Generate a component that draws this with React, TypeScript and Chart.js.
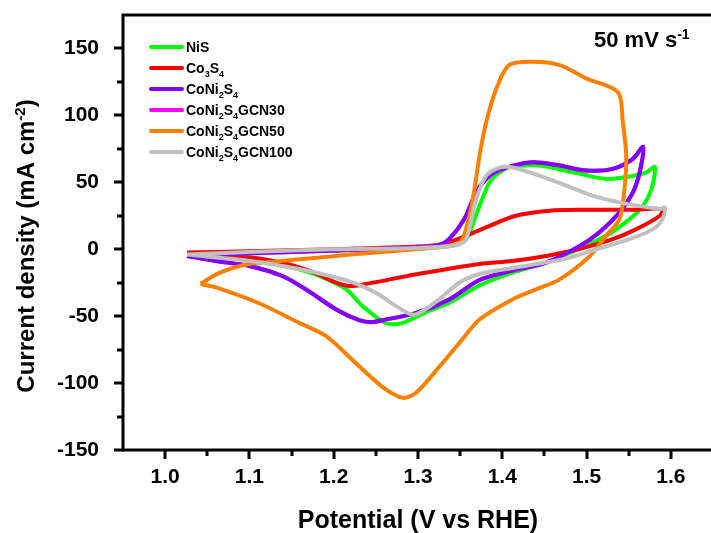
import React, { useEffect, useRef } from 'react';
import { Chart, registerables } from 'chart.js';

Chart.register(...registerables);

const FONT = '"Liberation Sans", Arial, Helvetica, sans-serif';

// ---- axis ticks ----
const xTickValues = [1.0, 1.1, 1.2, 1.3, 1.4, 1.5, 1.6];
const xMinorValues = [1.05, 1.15, 1.25, 1.35, 1.45, 1.55];
const yTickValues = [-150, -100, -50, 0, 50, 100, 150];
const yMinorValues = [-125, -75, -25, 25, 75, 125];

// ---- series (potential V vs RHE, current density mA cm-2), loop order ----
const nisV = [1.027, 1.10, 1.20, 1.30, 1.34, 1.357, 1.373, 1.385, 1.397, 1.409, 1.444, 1.484, 1.523, 1.547, 1.571, 1.581, 1.577, 1.567, 1.551, 1.523, 1.49, 1.452, 1.412, 1.373, 1.337, 1.31, 1.282, 1.268, 1.258, 1.234, 1.215, 1.187, 1.159, 1.12, 1.08, 1.027];
const nisJ = [-3.5, -2.5, -1.0, 0.5, 2.5, 7.5, 32.5, 50, 57.5, 61.5, 62.5, 57.5, 52.5, 54, 57.5, 61.5, 45, 32.5, 22.5, 10, 0, -10, -17.5, -27, -40, -47, -55, -56, -54, -42.5, -30, -21, -15, -8.75, -6, -3.5];

const co3s4V = [1.026, 1.10, 1.20, 1.30, 1.33, 1.357, 1.385, 1.416, 1.456, 1.495, 1.555, 1.59, 1.587, 1.559, 1.531, 1.49, 1.452, 1.412, 1.373, 1.298, 1.238, 1.219, 1.203, 1.171, 1.139, 1.10, 1.026];
const co3s4J = [-2.5, -1.5, 0, 2, 4, 10, 17.5, 25, 28.75, 29.5, 29.5, 30, 25, 15, 7.5, 0, -5, -8.75, -11, -18.75, -26, -27.5, -25, -16, -10, -6, -2.5];

const coni2s4V = [1.026, 1.10, 1.20, 1.30, 1.325, 1.337, 1.355, 1.369, 1.385, 1.405, 1.436, 1.468, 1.50, 1.531, 1.555, 1.567, 1.563, 1.555, 1.539, 1.515, 1.492, 1.452, 1.412, 1.373, 1.337, 1.298, 1.258, 1.245, 1.23, 1.203, 1.167, 1.139, 1.10, 1.06, 1.026];
const coni2s4J = [-5, -3, -1, 1.5, 3, 7.5, 22.5, 42.5, 55, 61, 65, 62.5, 58.75, 60, 67.5, 76.5, 57.5, 42.5, 27.5, 12.5, 2.5, -10, -16, -23, -37.5, -47.5, -53, -54.5, -53, -45, -30, -20, -12.5, -8.75, -5];

const gcn30V = [1.026, 1.10, 1.20, 1.30, 1.325, 1.337, 1.355, 1.369, 1.385, 1.405, 1.436, 1.468, 1.50, 1.531, 1.555, 1.567, 1.563, 1.555, 1.539, 1.515, 1.492, 1.452, 1.412, 1.373, 1.337, 1.298, 1.258, 1.245, 1.23, 1.203, 1.167, 1.139, 1.10, 1.06, 1.026];
const gcn30J = [-5, -3, -1, 1.5, 3, 7.5, 22.5, 42.5, 55, 61, 65, 62.5, 58.75, 60, 67.5, 76.5, 57.5, 42.5, 27.5, 12.5, 2.5, -10, -16, -23, -37.5, -47.5, -53, -54.5, -53, -45, -30, -20, -12.5, -8.75, -5];

const gcn50V = [1.042, 1.06, 1.08, 1.10, 1.16, 1.22, 1.28, 1.33, 1.35, 1.361, 1.367, 1.373, 1.381, 1.393, 1.408, 1.436, 1.468, 1.50, 1.537, 1.543, 1.547, 1.545, 1.539, 1.523, 1.504, 1.468, 1.44, 1.412, 1.373, 1.349, 1.325, 1.298, 1.282, 1.258, 1.226, 1.191, 1.159, 1.11, 1.06, 1.042];
const gcn50J = [-26, -19, -14, -11, -7.5, -4, -1, 2, 5, 25, 45, 70, 95, 120, 137.5, 140, 137.5, 127.5, 117.5, 95, 70, 45, 22.5, 10, -5, -22.5, -30, -37.5, -52.5, -70, -88, -107, -111, -103, -85, -65, -55, -40, -28.5, -26];

const gcn100V = [1.026, 1.10, 1.20, 1.30, 1.345, 1.357, 1.369, 1.381, 1.397, 1.412, 1.444, 1.476, 1.507, 1.539, 1.587, 1.593, 1.59, 1.579, 1.551, 1.512, 1.472, 1.412, 1.373, 1.349, 1.325, 1.306, 1.294, 1.274, 1.25, 1.219, 1.179, 1.139, 1.10, 1.026];
const gcn100J = [-4, -2, 0, 1, 3, 7.5, 37.5, 55, 61, 61, 55, 47.5, 40, 35, 30, 31, 22.5, 15, 7.5, 0, -7.5, -14, -18.5, -25, -37.5, -46, -49, -42.5, -32.5, -24, -17.5, -12.5, -8.75, -4];

const seriesNames = ['NiS', 'Co3S4', 'CoNi2S4', 'CoNi2S4GCN30', 'CoNi2S4GCN50', 'CoNi2S4GCN100'];
const seriesColors = ['#00FF00', '#FF0000', '#8000FF', '#FF00FF', '#FF8000', '#C0C0C0'];
const seriesV = [nisV, co3s4V, coni2s4V, gcn30V, gcn50V, gcn100V];
const seriesJ = [nisJ, co3s4J, coni2s4J, gcn30J, gcn50J, gcn100J];
// drawing order (lower = drawn later, on top)
const seriesOrder = [5, 4, 2, 3, 1, 0];

// rich labels: [text, 0 normal | 1 subscript | -1 superscript]
type Seg = [string, number];
const legendLabels: Seg[][] = [
  [['NiS', 0]],
  [['Co', 0], ['3', 1], ['S', 0], ['4', 1]],
  [['CoNi', 0], ['2', 1], ['S', 0], ['4', 1]],
  [['CoNi', 0], ['2', 1], ['S', 0], ['4', 1], ['GCN30', 0]],
  [['CoNi', 0], ['2', 1], ['S', 0], ['4', 1], ['GCN50', 0]],
  [['CoNi', 0], ['2', 1], ['S', 0], ['4', 1], ['GCN100', 0]],
];
const xTitle: Seg[] = [['Potential (V vs RHE)', 0]];
const yTitle: Seg[] = [['Current density (mA cm', 0], ['-2', -1], [')', 0]];
const rateLabel: Seg[] = [['50 mV s', 0], ['-1', -1]];

function segFont(size: number, kind: number) {
  const s = kind === 0 ? size : Math.round(size * 0.62);
  return `bold ${s}px ${FONT}`;
}

function richWidth(ctx: CanvasRenderingContext2D, segs: Seg[], size: number) {
  let w = 0;
  for (const [t, k] of segs) {
    ctx.font = segFont(size, k);
    w += ctx.measureText(t).width;
  }
  return w;
}

function drawRich(ctx: CanvasRenderingContext2D, segs: Seg[], x: number, y: number, size: number) {
  let cx = x;
  ctx.textBaseline = 'alphabetic';
  ctx.textAlign = 'left';
  for (const [t, k] of segs) {
    ctx.font = segFont(size, k);
    const dy = k === 1 ? size * 0.3 : k === -1 ? -size * 0.38 : 0;
    ctx.fillText(t, cx, y + dy);
    cx += ctx.measureText(t).width;
  }
}

const decorPlugin = {
  id: 'decor',
  afterDatasetsDraw(chart: any) {
    const { ctx, chartArea: a, scales } = chart;
    const xs = scales.x;
    const ys = scales.y;
    ctx.save();
    ctx.strokeStyle = '#000';
    ctx.lineWidth = 3;
    ctx.beginPath();
    ctx.rect(a.left, a.top, a.right - a.left, a.bottom - a.top);
    ctx.stroke();

    ctx.lineWidth = 3;
    ctx.beginPath();
    for (const v of xTickValues) {
      const p = Math.round(xs.getPixelForValue(v));
      ctx.moveTo(p, a.bottom);
      ctx.lineTo(p, a.bottom + 9);
    }
    for (const v of xMinorValues) {
      const p = Math.round(xs.getPixelForValue(v));
      ctx.moveTo(p, a.bottom);
      ctx.lineTo(p, a.bottom + 6);
    }
    for (const v of yTickValues) {
      const p = Math.round(ys.getPixelForValue(v));
      ctx.moveTo(a.left, p);
      ctx.lineTo(a.left - 9, p);
    }
    for (const v of yMinorValues) {
      const p = Math.round(ys.getPixelForValue(v));
      ctx.moveTo(a.left, p);
      ctx.lineTo(a.left - 6, p);
    }
    ctx.stroke();

    // legend
    legendLabels.forEach((segs, i) => {
      const ly = 47 + i * 21;
      ctx.strokeStyle = seriesColors[i];
      ctx.lineWidth = 4;
      ctx.lineCap = 'round';
      ctx.beginPath();
      ctx.moveTo(151, ly);
      ctx.lineTo(182, ly);
      ctx.stroke();
      ctx.fillStyle = '#000';
      drawRich(ctx, segs, 186, ly + 5, 14);
    });

    // scan-rate label
    ctx.fillStyle = '#000';
    drawRich(ctx, rateLabel, 594, 47, 22);

    // x title
    const xw = richWidth(ctx, xTitle, 25);
    drawRich(ctx, xTitle, 418 - xw / 2, 528, 25);

    // y title
    const yw = richWidth(ctx, yTitle, 24);
    ctx.translate(34, 246);
    ctx.rotate(-Math.PI / 2);
    drawRich(ctx, yTitle, -yw / 2, 0, 24);
    ctx.restore();
  },
};

export default function App() {
  const ref = useRef<HTMLCanvasElement | null>(null);

  useEffect(() => {
    if (!ref.current) return;
    const datasets = seriesNames.map((name, i) => ({
      label: name,
      data: seriesV[i].map((v, k) => ({ x: v, y: seriesJ[i][k] })),
      borderColor: seriesColors[i],
      backgroundColor: seriesColors[i],
      borderWidth: 4,
      pointRadius: 0,
      showLine: true,
      fill: false,
      tension: 0.3,
      order: seriesOrder[i],
    }));

    const chart = new Chart(ref.current, {
      type: 'scatter',
      data: { datasets },
      plugins: [decorPlugin],
      options: {
        animation: false,
        responsive: false,
        maintainAspectRatio: false,
        layout: { padding: { left: 0, right: 7, top: 15, bottom: 0 } },
        plugins: { legend: { display: false }, tooltip: { enabled: false } },
        scales: {
          x: {
            type: 'linear',
            min: 0.95,
            max: 1.65,
            grid: { display: false },
            border: { display: false },
            afterBuildTicks: (s: any) => { s.ticks = xTickValues.map((v) => ({ value: v })); },
            afterFit: (s: any) => { s.height = 83; s.paddingLeft = 0; s.paddingRight = 0; },
            ticks: {
              color: '#000',
              padding: 7,
              maxRotation: 0,
              autoSkip: false,
              font: { family: FONT, size: 21, weight: 'bold' },
              callback: (v: any) => Number(v).toFixed(1),
            },
          },
          y: {
            type: 'linear',
            min: -150,
            max: 175,
            grid: { display: false },
            border: { display: false },
            afterBuildTicks: (s: any) => { s.ticks = yTickValues.map((v) => ({ value: v })); },
            afterFit: (s: any) => { s.width = 123; s.paddingTop = 0; s.paddingBottom = 0; },
            ticks: {
              color: '#000',
              padding: 16,
              autoSkip: false,
              font: { family: FONT, size: 21, weight: 'bold' },
              callback: (v: any) => String(v),
            },
          },
        },
      },
    });
    return () => chart.destroy();
  }, []);

  return (
    <div style={{ position: 'absolute', left: 0, top: 0, width: 711, height: 533, overflow: 'hidden', background: '#fff' }}>
      <canvas ref={ref} width={720} height={533} style={{ display: 'block', width: 720, height: 533 }} />
    </div>
  );
}
